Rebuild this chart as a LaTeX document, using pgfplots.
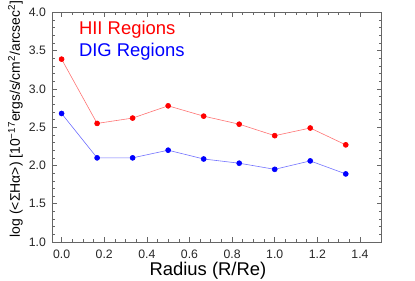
\documentclass[border=0pt]{standalone}
\usepackage{fontspec}
\setmainfont{Liberation Sans}
\usepackage{pgfplots}
\pgfplotsset{compat=1.18}
\begin{document}
\begin{tikzpicture}
\begin{axis}[
  scale only axis, width=329.7bp, height=229.5bp,
  xmin=-0.045, xmax=1.502, ymin=1.0, ymax=4.0,
  xtick={0,0.2,0.4,0.6,0.8,1.0,1.2,1.4},
  ytick={1.0,1.5,2.0,2.5,3.0,3.5,4.0},
  minor x tick num=3, minor y tick num=4,
  tick align=inside, xtick pos=both, ytick pos=both,
  major tick length=5bp, minor tick length=2.6bp,
  axis line style={draw=black!60, line width=0.7pt},
  every tick/.style={draw=black!60, line width=0.6pt},
  /pgf/number format/assume math mode=true,
  /pgf/number format/.cd, fixed, fixed zerofill, precision=1, /pgfplots/.cd,
  ticklabel style={font=\fontsize{12.3}{13}\selectfont, text=black!85},
  xticklabel style={yshift=-4.5bp},
  yticklabel style={xshift=-2.6bp},
  xlabel={Radius (R/Re)},
  xlabel style={font=\fontsize{18.5}{20}\selectfont, at={(axis description cs:0.473,-0.1468)}, anchor=base},
  ylabel={log (<ΣHα>) [10\textsuperscript{−17}ergs/s/cm\textsuperscript{2}/arcsec\textsuperscript{2}]},
  ylabel style={font=\fontsize{14}{16}\selectfont, at={(axis description cs:-0.0971,0.536)}, anchor=base, rotate=0},
]
\addplot[color=red!55, line width=0.6pt, mark=*, mark size=2.5bp, mark options={draw=red, fill=red}]
  coordinates {(0,3.39) (0.1667,2.55) (0.3333,2.62) (0.5,2.78) (0.6667,2.645) (0.8333,2.54) (1.0,2.39) (1.1667,2.49) (1.3333,2.27)};
\addplot[color=blue!55, line width=0.6pt, mark=*, mark size=2.5bp, mark options={draw=blue, fill=blue}]
  coordinates {(0,2.68) (0.1667,2.10) (0.3333,2.10) (0.5,2.20) (0.6667,2.085) (0.8333,2.03) (1.0,1.95) (1.1667,2.06) (1.3333,1.89)};
\node[anchor=base west, text=red, font=\fontsize{18.5}{20}\selectfont, inner sep=0pt] at (axis cs:0.081,3.706) {HII Regions};
\node[anchor=base west, text=blue, font=\fontsize{18.5}{20}\selectfont, inner sep=0pt] at (axis cs:0.081,3.42) {DIG Regions};
\coordinate (sw) at (rel axis cs:0,0);
\end{axis}
\pgfresetboundingbox
\path[use as bounding box] (sw) ++(-52bp,-39bp) rectangle ++(415bp,281bp);
\end{tikzpicture}
\end{document}
